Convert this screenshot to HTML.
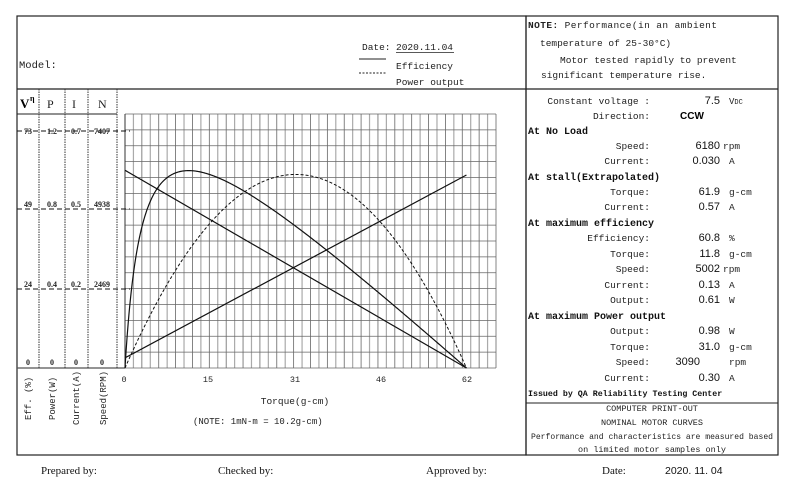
<!DOCTYPE html>
<html><head><meta charset="utf-8"><style>
html,body{margin:0;padding:0;background:#fff;}
svg{display:block;font-family:"Liberation Serif","Noto Serif CJK SC",serif;}
.t{font-size:10px;fill:#222;}
.m{font-family:"Liberation Mono",monospace;font-size:9.5px;fill:#222;}
.b{font-family:"Liberation Mono",monospace;font-size:10px;font-weight:bold;fill:#111;}
</style></head><body>
<svg id="s" width="800" height="489" viewBox="0 0 800 489" xmlns="http://www.w3.org/2000/svg">
<rect x="0" y="0" width="800" height="489" fill="#fff"/>
<g id="grid"></g>
<rect x="17" y="16" width="509" height="439" fill="none" stroke="#222" stroke-width="1.2"/>
<rect x="526" y="16" width="252" height="439" fill="none" stroke="#222" stroke-width="1.2"/>
<line x1="17" y1="89" x2="778" y2="89" stroke="#222" stroke-width="1.2"/>
<line x1="526" y1="403" x2="778" y2="403" stroke="#222" stroke-width="1"/>
<line x1="17" y1="114" x2="117" y2="114" stroke="#222"/>
<line x1="17" y1="368" x2="125" y2="368" stroke="#555" stroke-width="1.2"/>
<g stroke="#333" stroke-dasharray="1.5,1" stroke-width="1">
<line x1="39" y1="89" x2="39" y2="368"/><line x1="65" y1="89" x2="65" y2="368"/>
<line x1="88" y1="89" x2="88" y2="368"/><line x1="117" y1="89" x2="117" y2="368"/>
</g>
<g stroke="#111" stroke-dasharray="5,3" stroke-width="1">
<line x1="17" y1="131" x2="130" y2="131"/><line x1="17" y1="209" x2="130" y2="209"/><line x1="17" y1="289" x2="130" y2="289"/>
</g>
<text x="19" y="68" class="m" style="font-size:10.5px">Model:</text>
<text x="362" y="50" class="m">Date: </text>
<text x="396" y="50" class="m">2020.11.04</text>
<line x1="396" y1="52.5" x2="454" y2="52.5" stroke="#222" stroke-width="0.8"/>
<line x1="359" y1="59" x2="386" y2="59" stroke="#222" stroke-width="1"/>
<text x="396" y="69" class="m">Efficiency</text>
<line x1="359" y1="73" x2="386" y2="73" stroke="#222" stroke-width="1" stroke-dasharray="2,1.5"/>
<text x="396" y="85" class="m">Power output</text>
<text x="528" y="28" class="m" textLength="189"><tspan font-weight="bold">NOTE:</tspan>  Performance(in an ambient</text>
<text x="540" y="46" class="m">temperature of 25-30°C)</text>
<text x="560" y="63" class="m">Motor tested rapidly to prevent</text>
<text x="541" y="78" class="m">significant temperature rise.</text>
<text x="20" y="108" style="font-size:13px;font-weight:bold">V</text><text x="30" y="101" style="font-size:8px;font-weight:bold">η</text>
<text x="47" y="108" class="t" style="font-size:12px">P</text>
<text x="72" y="108" class="t" style="font-size:12px">I</text>
<text x="98" y="108" class="t" style="font-size:12px">N</text>
<g class="t" style="font-size:8px;font-weight:bold" text-anchor="middle">
<text x="28" y="134">73</text><text x="52" y="134">1.2</text><text x="76" y="134">0.7</text><text x="102" y="134">7407</text>
<text x="28" y="207">49</text><text x="52" y="207">0.8</text><text x="76" y="207">0.5</text><text x="102" y="207">4938</text>
<text x="28" y="287">24</text><text x="52" y="287">0.4</text><text x="76" y="287">0.2</text><text x="102" y="287">2469</text>
<text x="28" y="365">0</text><text x="52" y="365">0</text><text x="76" y="365">0</text><text x="102" y="365">0</text>
</g>
<g class="m" style="font-size:9px">
<text transform="translate(31,420) rotate(-90)">Eff. (%)</text>
<text transform="translate(55,420) rotate(-90)">Power(W)</text>
<text transform="translate(79,425) rotate(-90)">Current(A)</text>
<text transform="translate(106,425) rotate(-90)">Speed(RPM)</text>
</g>
<g class="m" style="font-size:8.5px" text-anchor="middle">
<text x="124" y="382">0</text><text x="208" y="382">15</text><text x="295" y="382">31</text><text x="381" y="382">46</text><text x="467" y="382">62</text>
</g>
<text x="295" y="404" class="m" text-anchor="middle">Torque(g-cm)</text>
<text x="193" y="424" class="m" style="font-size:9px">(NOTE: 1mN-m = 10.2g-cm)</text>
<g class="m" text-anchor="end">
<text x="650" y="104">Constant voltage :</text>
<text x="650" y="119">Direction:</text>
<text x="650" y="149">Speed:</text>
<text x="650" y="164">Current:</text>
<text x="650" y="195">Torque:</text>
<text x="650" y="210">Current:</text>
<text x="650" y="241">Efficiency:</text>
<text x="650" y="257">Torque:</text>
<text x="650" y="272">Speed:</text>
<text x="650" y="288">Current:</text>
<text x="650" y="303">Output:</text>
<text x="650" y="334">Output:</text>
<text x="650" y="350">Torque:</text>
<text x="650" y="365">Speed:</text>
<text x="650" y="381">Current:</text>
</g>
<g text-anchor="end" style="font-size:11px;font-family:'Liberation Sans',sans-serif;fill:#111">
<text x="720" y="104">7.5</text>
<text x="720" y="149">6180</text><text x="720" y="164">0.030</text>
<text x="720" y="195">61.9</text><text x="720" y="210">0.57</text>
<text x="720" y="241">60.8</text><text x="720" y="257">11.8</text><text x="720" y="272">5002</text><text x="720" y="288">0.13</text><text x="720" y="303">0.61</text>
<text x="720" y="334">0.98</text><text x="720" y="350">31.0</text><text x="700" y="365">3090</text><text x="720" y="381">0.30</text>
</g>
<text x="680" y="119" style="font-size:10px;font-weight:bold;font-family:'Liberation Sans',sans-serif">CCW</text>
<g class="m">
<text x="729" y="104" style="font-size:9px">V<tspan font-size="7">DC</tspan></text>
<text x="723" y="149">rpm</text><text x="729" y="164">A</text>
<text x="729" y="195">g-cm</text><text x="729" y="210">A</text>
<text x="729" y="241">%</text><text x="729" y="257">g-cm</text><text x="723" y="272">rpm</text><text x="729" y="288">A</text><text x="729" y="303">W</text>
<text x="729" y="334">W</text><text x="729" y="350">g-cm</text><text x="729" y="365">rpm</text><text x="729" y="381">A</text>
</g>
<g class="b">
<text x="528" y="134">At No Load</text>
<text x="528" y="180">At stall(Extrapolated)</text>
<text x="528" y="226">At maximum efficiency</text>
<text x="528" y="319">At maximum Power output</text>
<text x="528" y="396" style="font-size:8.3px">Issued by QA Reliability Testing Center</text>
</g>
<g class="m" style="font-size:8.5px" text-anchor="middle">
<text x="652" y="411">COMPUTER PRINT-OUT</text>
<text x="652" y="425">NOMINAL MOTOR CURVES</text>
<text x="652" y="439" textLength="242" lengthAdjust="spacingAndGlyphs">Performance and characteristics are measured based</text>
<text x="652" y="452">on limited motor samples only</text>
</g>
<g style="font-size:11px;font-family:'Liberation Serif',serif;fill:#111">
<text x="41" y="474">Prepared by:</text>
<text x="218" y="474">Checked by:</text>
<text x="426" y="474">Approved by:</text>
<text x="602" y="474">Date:</text>
<text x="665" y="474" style="font-family:'Liberation Sans',sans-serif;font-size:10.5px">2020. 11. 04</text>
</g>
<g id="curves" fill="none" stroke="#111" stroke-width="1.2"></g>
</svg>
<script>
var ns="http://www.w3.org/2000/svg",g=document.getElementById('grid'),c=document.getElementById('curves');
function L(p,x1,y1,x2,y2,st,w,d){var l=document.createElementNS(ns,'line');l.setAttribute('x1',x1);l.setAttribute('y1',y1);l.setAttribute('x2',x2);l.setAttribute('y2',y2);l.setAttribute('stroke',st);l.setAttribute('stroke-width',w);if(d)l.setAttribute('stroke-dasharray',d);p.appendChild(l);}
var X0=125,X1=496,Y0=114,Y1=368;
for(var i=0;i<=44;i++){var x=X0+i*(X1-X0)/44;L(g,x,Y0,x,Y1,i%2?'#aaa':'#666',i%2?1.2:0.8);}
for(var j=0;j<=16;j++){var y=Y0+j*(Y1-Y0)/16;L(g,X0,y,X1,y,'#666',0.8);}
L(g,X0,Y0,X0,Y1,'#333',1);
var sx=342/62,sy=237;function px(T){return X0+T*sx;}
var Ts=61.9,I0=0.03,Is=0.57;
L(c,px(0),368-6180/7407*sy,px(Ts),368,'#111',1.2);
L(c,px(0),368-I0/0.7*sy,px(Ts),368-Is/0.7*sy,'#111',1.2);
function eff(T){return T*(1-T/Ts)/(I0+(Is-I0)*T/Ts);}
var m=0;for(var T=0;T<Ts;T+=0.05)m=Math.max(m,eff(T));
var d='',d2='';
for(var k=0;k<=600;k++){var T=Ts*k/600;var e=eff(T)/m*60.8;d+=(k?'L':'M')+px(T).toFixed(2)+','+(368-e/73*sy).toFixed(2);
var p=0.98*4*(T/Ts)*(1-T/Ts);d2+=(k?'L':'M')+px(T).toFixed(2)+','+(368-p/1.2*sy).toFixed(2);}
var a=document.createElementNS(ns,'path');a.setAttribute('d',d);c.appendChild(a);
var b=document.createElementNS(ns,'path');b.setAttribute('d',d2);b.setAttribute('stroke-dasharray','3,2');b.setAttribute('stroke-width','1');c.appendChild(b);
</script>
</body></html>
